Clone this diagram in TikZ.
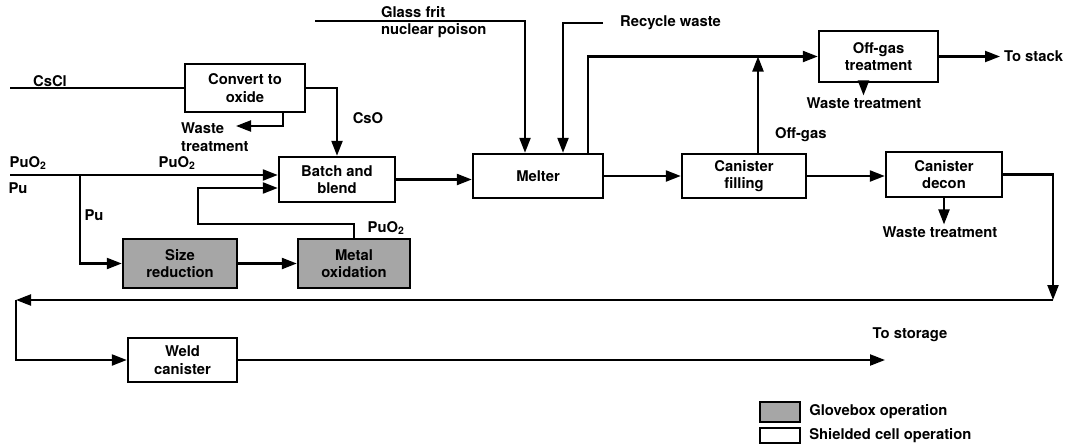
\documentclass[tikz,border=0pt]{standalone}
\usepackage{fontspec}
\setmainfont{TeX Gyre Heros}
\usetikzlibrary{arrows.meta,positioning}

\begin{document}
\begin{tikzpicture}[x=1pt, y=-1pt, >={Triangle[length=15pt,width=11pt]},
  font=\fontsize{14.8}{17.5}\selectfont\bfseries, line width=2.2pt,
  shielded/.style={draw, line width=2.4pt, align=center, inner sep=2pt},
  glovebox/.style={shielded, fill=black!35},
  lbl/.style={inner sep=1pt}]
  \useasboundingbox (0,0) rectangle (1067,447);

  %% Process boxes
  \node[shielded, minimum width=120pt, minimum height=48pt] (conv)   at (245,88)    {Convert to\\oxide};
  \node[shielded, minimum width=116pt, minimum height=45pt] (batch)  at (337,179.5) {Batch and\\blend};
  \node[shielded, minimum width=130pt, minimum height=44pt] (melter) at (538,176)   {Melter};
  \node[shielded, minimum width=124pt, minimum height=44pt] (fill)   at (744,176)   {Canister\\filling};
  \node[shielded, minimum width=119pt, minimum height=51pt] (offgas) at (878.5,56.5) {Off-gas\\treatment};
  \node[shielded, minimum width=116pt, minimum height=45pt] (decon)  at (944,174.5) {Canister\\decon};
  \node[glovebox, minimum width=114pt, minimum height=49pt] (size)   at (180,263.5) {Size\\reduction};
  \node[glovebox, minimum width=112pt, minimum height=49pt] (metox)  at (354,263.5) {Metal\\oxidation};
  \node[shielded, minimum width=109pt, minimum height=44pt] (weld)   at (182.5,360) {Weld\\canister};

  %% Feed and exit points
  \coordinate (cscl)  at (10,88);
  \coordinate (pufeed) at (10,175);
  \coordinate (split) at (80,175);
  \coordinate (pubk)  at (198,188);
  \coordinate (frit)  at (315,21);
  \coordinate (recyc) at (603,23);
  \coordinate (stack) at (1000,56.5);
  \coordinate (ret1)  at (1053,300);
  \coordinate (ret2)  at (16,300);
  \coordinate (store) at (885,360);

  %% Labels
  \node[lbl] (lcscl) at (50,81) {CsCl};
  \node[lbl] (lcso) at (368,118) {CsO};
  \node[lbl, anchor=west, align=left] (cwaste) at (179,137) {Waste\\treatment};
  \node[lbl] (lpuo) at (28,163) {PuO\textsubscript{2}};
  \node[lbl] (lpu) at (18,188) {Pu};
  \node[lbl] (lpuo2) at (177,163) {PuO\textsubscript{2}};
  \node[lbl] (lpub) at (94,215) {Pu};
  \node[lbl] (lpuo3) at (386,228) {PuO\textsubscript{2}};
  \node[lbl, anchor=west, align=left] (lfrit) at (379,22) {Glass frit\\nuclear poison};
  \node[lbl, anchor=west] (lrecyc) at (618,23) {Recycle waste};
  \node[lbl, anchor=west] (loff) at (773,135) {Off-gas};
  \node[lbl, anchor=west] (lstack) at (1002,56.5) {To stack};
  \node[lbl] (owaste) at (864,103) {Waste treatment};
  \node[lbl] (dwaste) at (940,232) {Waste treatment};
  \node[lbl] (lstore) at (910,335) {To storage};

  %% Flows
  \draw (cscl) -- (cscl -| conv.west);
  \draw[->] (conv.east) -| (batch.north);
  \draw[->] ([xshift=38pt]conv.south) |- (236,126);
  \draw[->] (pufeed) -- (pufeed -| batch.west);
  \draw[->] (split) |- (size.west);
  \draw[->] (size) -- (metox);
  \draw[->] (metox.north) -- ++(0,-14) -| (pubk) -- (pubk -| batch.west);
  \draw[->] (batch.east) -- (batch.east -| melter.west);
  \draw[->] (frit) -| ([xshift=-13pt]melter.north);
  \draw[->] (recyc) -| ([xshift=25pt]melter.north);
  \draw[->] ([xshift=50pt]melter.north) |- (offgas.west);
  \draw[->] (melter.east) -- (melter.east -| fill.west);
  \draw[->] ([xshift=14pt]fill.north) -- ([xshift=14pt]fill.north |- offgas.west);
  \draw[->] (offgas.east) -- (stack);
  \draw[->] ([xshift=-15pt]offgas.south) -- ([xshift=-15pt]offgas.south |- owaste.north);
  \draw[->] (fill.east) -- (fill.east -| decon.west);
  \draw[->] (decon.south) -- (decon.south |- dwaste.north);
  \draw[->] (decon.east) -| (ret1);
  \draw[->] (ret1) -- (ret2);
  \draw[->] (ret2) |- (weld.west);
  \draw[->] (weld.east) -- (store);

  %% Legend
  \node[glovebox, minimum width=40pt, minimum height=20pt] (keyglove) at (780,412) {};
  \node[lbl, anchor=west] at ([xshift=6pt]keyglove.east) {Glovebox operation};
  \node[shielded, minimum width=40pt, minimum height=15pt] (keyshield) at (780,435.5) {};
  \node[lbl, anchor=west] at ([xshift=6pt]keyshield.east) {Shielded cell operation};
\end{tikzpicture}
\end{document}
